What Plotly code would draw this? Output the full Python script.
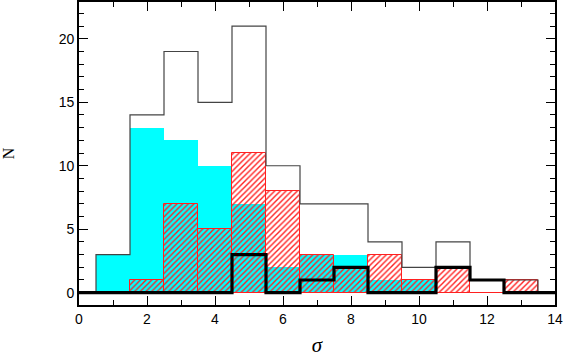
import numpy as np
import plotly.graph_objects as go

# Bin edges (width 1, from 0.5 to 13.5)
bin_left = [0.5, 1.5, 2.5, 3.5, 4.5, 5.5, 6.5, 7.5, 8.5, 9.5, 10.5, 11.5, 12.5]
cyan_counts = [3, 13, 12, 10, 7, 2, 3, 3, 1, 1, 0, 0, 0]
red_counts = [0, 1, 7, 5, 11, 8, 3, 2, 3, 1, 2, 0, 1]
thick_counts = [0, 0, 0, 0, 3, 0, 1, 2, 0, 0, 2, 1, 0]
total_counts = [3, 14, 19, 15, 21, 10, 7, 7, 4, 2, 4, 1, 1]
x_ticks = [0, 2, 4, 6, 8, 10, 12, 14]
y_ticks = [0, 5, 10, 15, 20]

centers = [b + 0.5 for b in bin_left]


def step_xy(lefts, counts, x0=0.0, x1=14.0):
    xs = [x0]
    ys = [0]
    for l, c in zip(lefts, counts):
        xs += [l, l]
        ys += [ys[-1], c]
        xs += [l + 1]
        ys += [c]
    last = lefts[-1] + 1
    xs += [last, x1]
    ys += [0, 0]
    return xs, ys


fig = go.Figure()

fig.add_trace(go.Bar(
    x=centers, y=cyan_counts, width=1,
    marker=dict(color="#00FFFF", line=dict(width=0)),
    showlegend=False,
))

fig.add_trace(go.Bar(
    x=centers, y=red_counts, width=1,
    marker=dict(
        color="rgba(0,0,0,0)",
        line=dict(color="#FF2020", width=1),
        pattern=dict(shape="/", fgcolor="#FF2020", bgcolor="rgba(0,0,0,0)",
                     size=4, solidity=0.35, fillmode="replace"),
    ),
    showlegend=False,
))

tx, ty = step_xy(bin_left, total_counts)
fig.add_trace(go.Scatter(
    x=tx, y=ty, mode="lines",
    line=dict(color="#444444", width=1.2),
    showlegend=False,
))

kx, ky = step_xy(bin_left, thick_counts)
fig.add_trace(go.Scatter(
    x=kx, y=ky, mode="lines",
    line=dict(color="black", width=3.2),
    showlegend=False,
))

axis_font = dict(family="Liberation Sans, Arial, sans-serif", size=14, color="black")

fig.update_layout(
    width=563, height=357,
    margin=dict(l=79, r=8, t=2, b=52, autoexpand=False),
    paper_bgcolor="white", plot_bgcolor="white",
    barmode="overlay", bargap=0,
    font=axis_font,
    xaxis=dict(
        range=[0, 14], tickvals=x_ticks, ticktext=[str(v) for v in x_ticks],
        ticks="inside", ticklen=9, tickwidth=1.3, tickcolor="black",
        minor=dict(dtick=1, tick0=0, ticks="inside", ticklen=5, tickwidth=1.3, tickcolor="black"),
        showline=True, linecolor="black", linewidth=1.8, mirror="ticks",
        showgrid=False, zeroline=False, automargin=False,
        title=dict(text="<i>σ</i>", font=dict(family="Liberation Serif, serif", size=21), standoff=14),
        tickfont=axis_font,
    ),
    yaxis=dict(
        range=[-0.97, 22.9], tickvals=y_ticks, ticktext=[str(v) for v in y_ticks],
        ticks="inside", ticklen=9, tickwidth=1.3, tickcolor="black",
        minor=dict(dtick=1, tick0=0, ticks="inside", ticklen=5, tickwidth=1.3, tickcolor="black"),
        showline=True, linecolor="black", linewidth=1.8, mirror="ticks",
        showgrid=False, zeroline=False, automargin=False,
        title=dict(text="N", font=dict(family="Liberation Serif, serif", size=16), standoff=42),
        tickfont=axis_font,
    ),
)

fig.write_html("out.html", config={"displayModeBar": False},
               post_script="document.body.style.margin='0';document.body.style.padding='0';")
